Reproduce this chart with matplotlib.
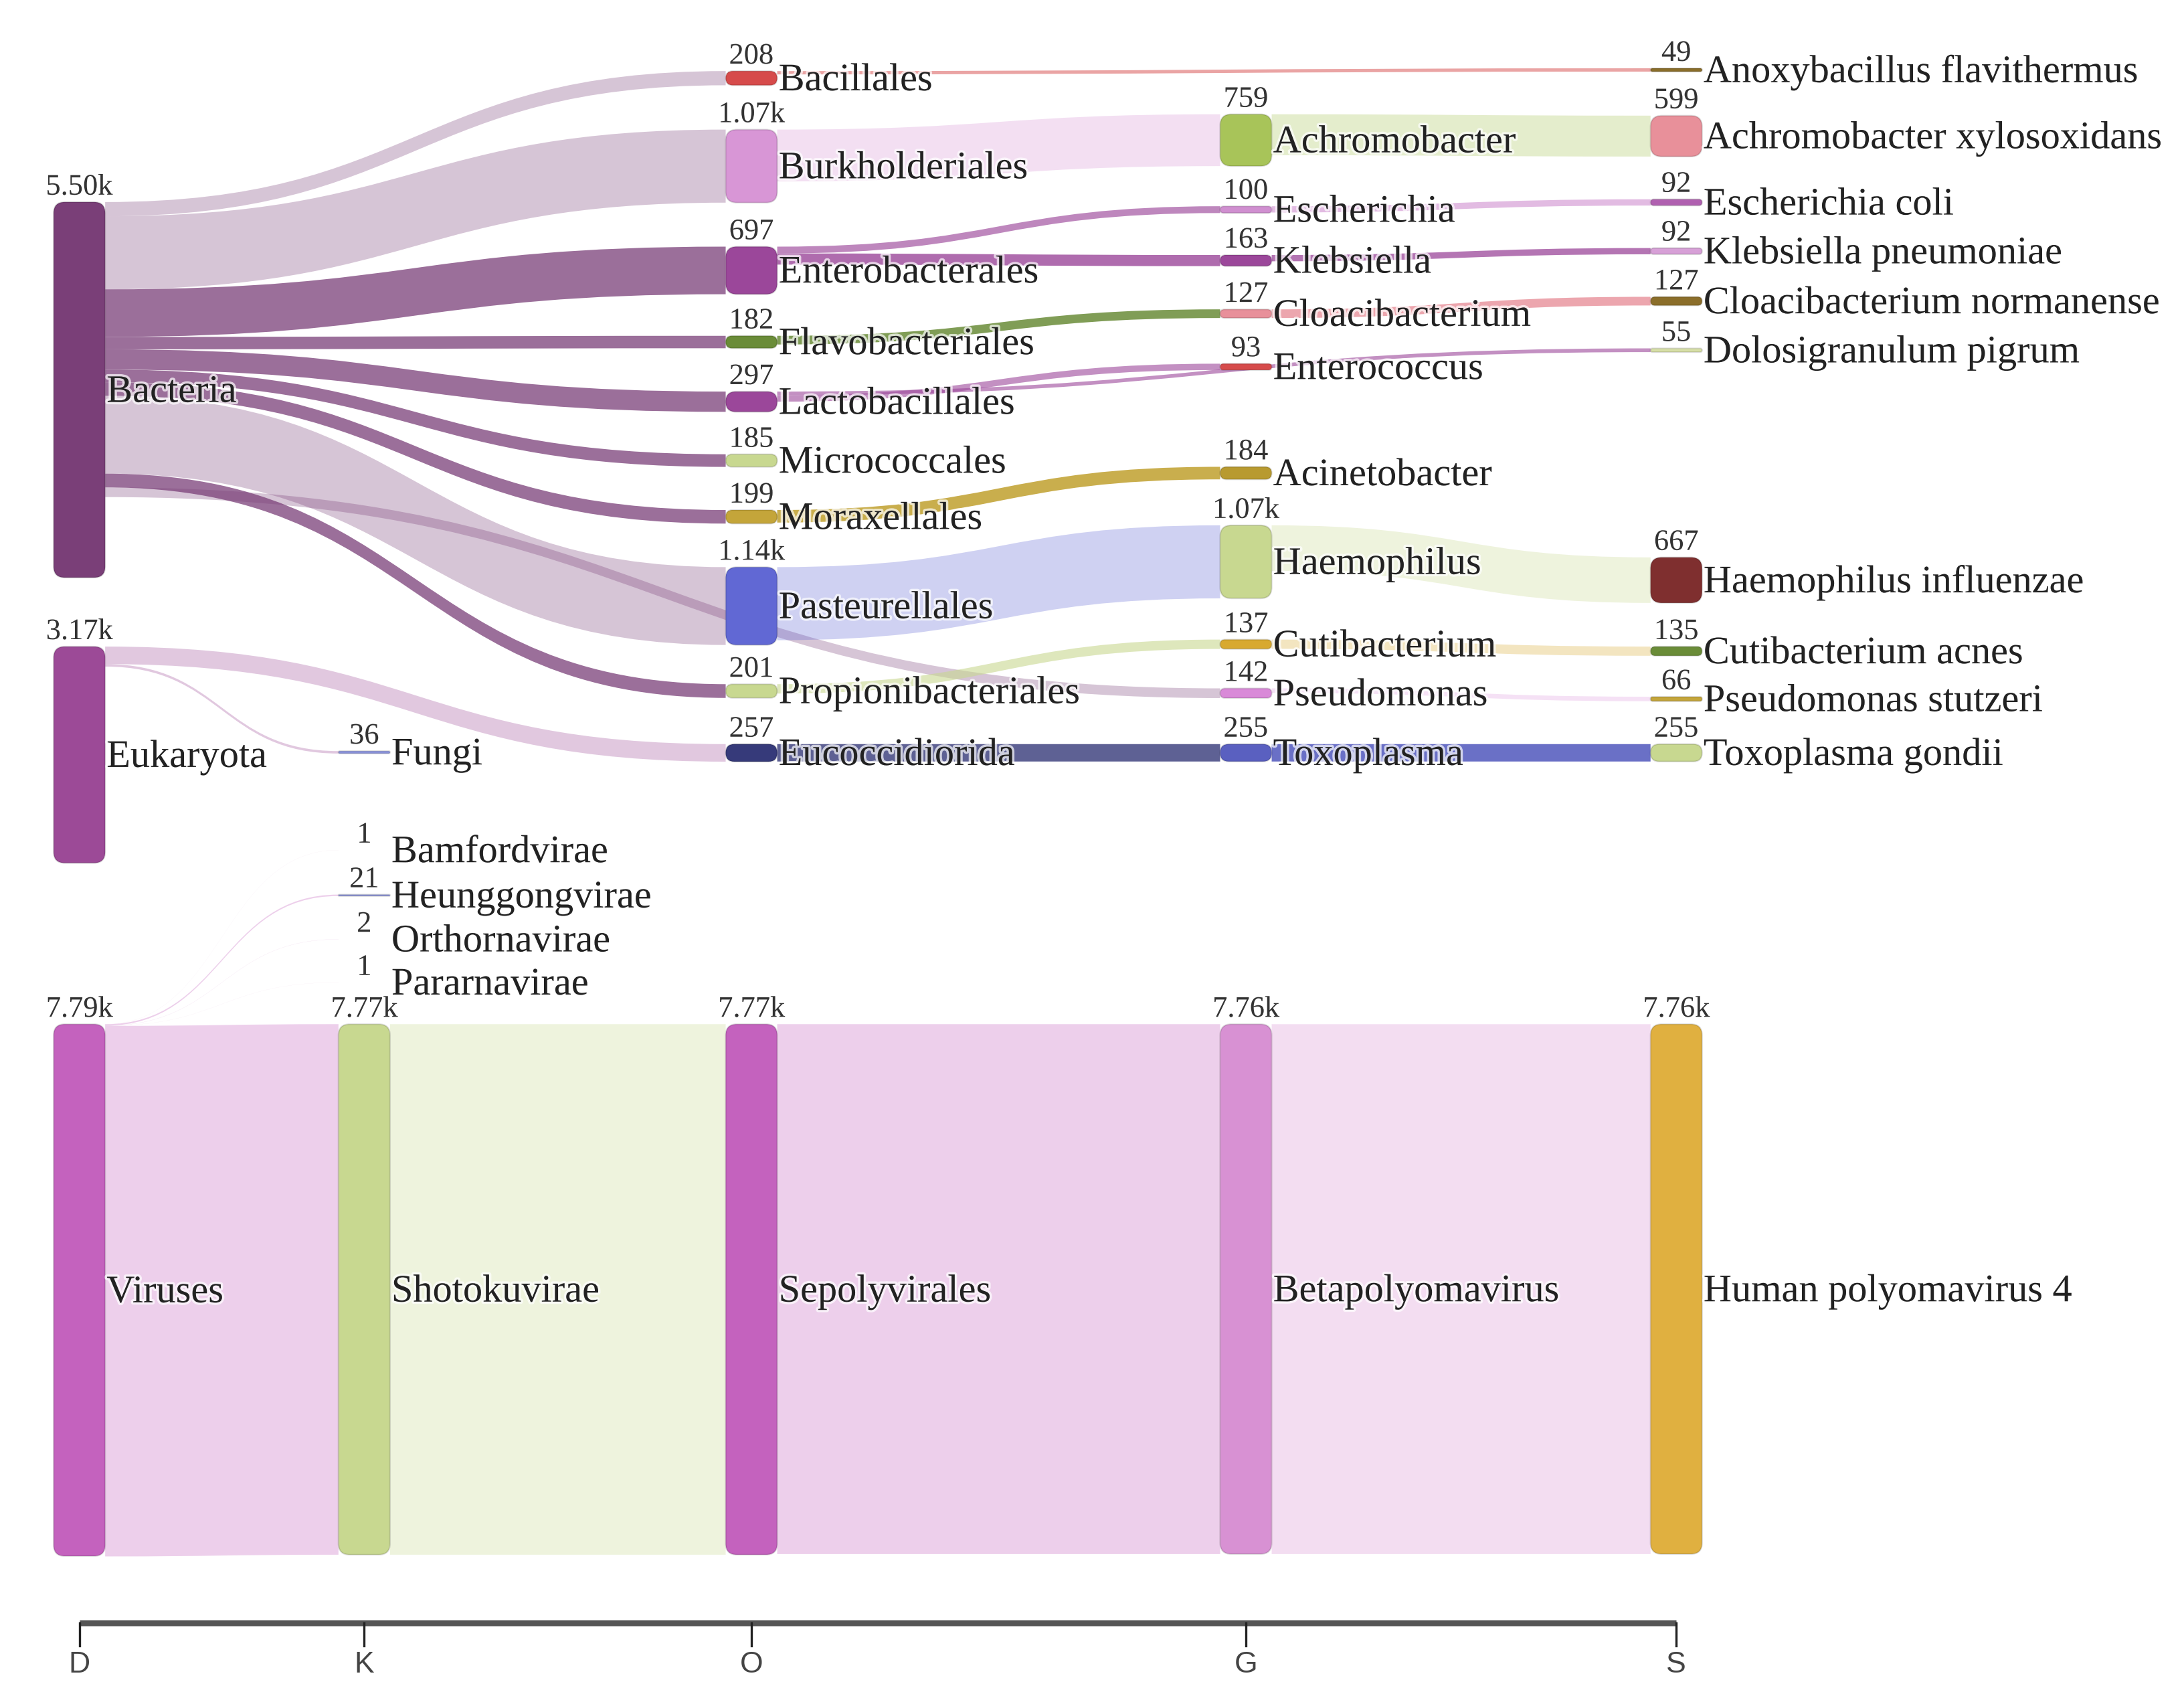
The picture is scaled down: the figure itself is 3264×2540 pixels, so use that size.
import matplotlib
matplotlib.use('Agg')
import matplotlib.pyplot as plt
from matplotlib.path import Path
from matplotlib.patches import PathPatch, FancyBboxPatch
import matplotlib.patheffects as pe

# taxonomic ranks on the bottom axis
ranks = ['D', 'K', 'O', 'G', 'S']

# nodes: name, rank column, read count
node_names = [
    'Bacteria', 'Eukaryota', 'Viruses',
    'Fungi', 'Bamfordvirae', 'Heunggongvirae', 'Orthornavirae', 'Pararnavirae', 'Shotokuvirae',
    'Bacillales', 'Burkholderiales', 'Enterobacterales', 'Flavobacteriales', 'Lactobacillales',
    'Micrococcales', 'Moraxellales', 'Pasteurellales', 'Propionibacteriales', 'Eucoccidiorida',
    'Sepolyvirales',
    'Achromobacter', 'Escherichia', 'Klebsiella', 'Cloacibacterium', 'Enterococcus',
    'Acinetobacter', 'Haemophilus', 'Cutibacterium', 'Pseudomonas', 'Toxoplasma',
    'Betapolyomavirus',
    'Anoxybacillus flavithermus', 'Achromobacter xylosoxidans', 'Escherichia coli',
    'Klebsiella pneumoniae', 'Cloacibacterium normanense', 'Dolosigranulum pigrum',
    'Haemophilus influenzae', 'Cutibacterium acnes', 'Pseudomonas stutzeri',
    'Toxoplasma gondii', 'Human polyomavirus 4',
]
node_ranks = [0, 0, 0,
              1, 1, 1, 1, 1, 1,
              2, 2, 2, 2, 2, 2, 2, 2, 2, 2, 2,
              3, 3, 3, 3, 3, 3, 3, 3, 3, 3, 3,
              4, 4, 4, 4, 4, 4, 4, 4, 4, 4, 4]
node_values = [5500, 3170, 7790,
               36, 1, 21, 2, 1, 7770,
               208, 1070, 697, 182, 297, 185, 199, 1140, 201, 257, 7770,
               759, 100, 163, 127, 93, 184, 1070, 137, 142, 255, 7760,
               49, 599, 92, 92, 127, 55, 667, 135, 66, 255, 7760]

# links between nodes (reads)
link_source = [
    'Bacteria', 'Bacteria', 'Bacteria', 'Bacteria', 'Bacteria', 'Bacteria', 'Bacteria',
    'Bacteria', 'Bacteria', 'Bacteria',
    'Eukaryota', 'Eukaryota',
    'Viruses', 'Viruses', 'Viruses', 'Viruses', 'Viruses',
    'Shotokuvirae', 'Sepolyvirales', 'Betapolyomavirus',
    'Bacillales', 'Burkholderiales', 'Achromobacter',
    'Enterobacterales', 'Enterobacterales', 'Escherichia', 'Klebsiella',
    'Flavobacteriales', 'Cloacibacterium',
    'Lactobacillales', 'Lactobacillales',
    'Moraxellales', 'Pasteurellales', 'Haemophilus',
    'Propionibacteriales', 'Cutibacterium', 'Pseudomonas',
    'Eucoccidiorida', 'Toxoplasma',
]
link_target = [
    'Bacillales', 'Burkholderiales', 'Enterobacterales', 'Flavobacteriales', 'Lactobacillales',
    'Micrococcales', 'Moraxellales', 'Pasteurellales', 'Propionibacteriales', 'Pseudomonas',
    'Fungi', 'Eucoccidiorida',
    'Bamfordvirae', 'Heunggongvirae', 'Orthornavirae', 'Pararnavirae', 'Shotokuvirae',
    'Sepolyvirales', 'Betapolyomavirus', 'Human polyomavirus 4',
    'Anoxybacillus flavithermus', 'Achromobacter', 'Achromobacter xylosoxidans',
    'Escherichia', 'Klebsiella', 'Escherichia coli', 'Klebsiella pneumoniae',
    'Cloacibacterium', 'Cloacibacterium normanense',
    'Enterococcus', 'Dolosigranulum pigrum',
    'Acinetobacter', 'Haemophilus', 'Haemophilus influenzae',
    'Cutibacterium', 'Cutibacterium acnes', 'Pseudomonas stutzeri',
    'Toxoplasma', 'Toxoplasma gondii',
]
link_values = [208, 1070, 697, 182, 297, 185, 199, 1140, 201, 142,
               36, 257,
               1, 21, 2, 1, 7770,
               7770, 7760, 7760,
               49, 759, 599,
               100, 163, 92, 92,
               127, 127,
               93, 55,
               184, 1070, 667,
               137, 135, 66,
               255, 255]

# ---- layout (canvas units, y downwards) ----
W, H = 1568, 1220
col_x = [38.5, 243, 521, 876, 1185]
node_w = 37
scale = 0.049   # canvas units per read

node_top = {
    'Bacteria': 145, 'Eukaryota': 464, 'Viruses': 735,
    'Fungi': 539, 'Bamfordvirae': 610, 'Heunggongvirae': 642, 'Orthornavirae': 674,
    'Pararnavirae': 705, 'Shotokuvirae': 735,
    'Bacillales': 51, 'Burkholderiales': 93, 'Enterobacterales': 177, 'Flavobacteriales': 241,
    'Lactobacillales': 281, 'Micrococcales': 326, 'Moraxellales': 366, 'Pasteurellales': 407,
    'Propionibacteriales': 491, 'Eucoccidiorida': 534, 'Sepolyvirales': 735,
    'Achromobacter': 82, 'Escherichia': 148, 'Klebsiella': 183, 'Cloacibacterium': 222,
    'Enterococcus': 261, 'Acinetobacter': 335, 'Haemophilus': 377, 'Cutibacterium': 459,
    'Pseudomonas': 494, 'Toxoplasma': 534, 'Betapolyomavirus': 735,
    'Anoxybacillus flavithermus': 49, 'Achromobacter xylosoxidans': 83, 'Escherichia coli': 143,
    'Klebsiella pneumoniae': 178, 'Cloacibacterium normanense': 213, 'Dolosigranulum pigrum': 250,
    'Haemophilus influenzae': 400, 'Cutibacterium acnes': 464, 'Pseudomonas stutzeri': 500,
    'Toxoplasma gondii': 534, 'Human polyomavirus 4': 735,
}

node_colors = {
    'Bacteria': '#7a3f78', 'Eukaryota': '#9c4a97', 'Viruses': '#c462be',
    'Fungi': '#8d96e0', 'Bamfordvirae': '#c8d890', 'Heunggongvirae': '#8d96e0',
    'Orthornavirae': '#c8d890', 'Pararnavirae': '#c8d890', 'Shotokuvirae': '#c8d890',
    'Bacillales': '#d64b4b', 'Burkholderiales': '#d896d6', 'Enterobacterales': '#9b479a',
    'Flavobacteriales': '#6a8c38', 'Lactobacillales': '#9b479a', 'Micrococcales': '#c8d890',
    'Moraxellales': '#c4a53a', 'Pasteurellales': '#6168d4', 'Propionibacteriales': '#c8d890',
    'Eucoccidiorida': '#363a7a', 'Sepolyvirales': '#c462be',
    'Achromobacter': '#a8c459', 'Escherichia': '#d08fd0', 'Klebsiella': '#9b479a',
    'Cloacibacterium': '#e8909a', 'Enterococcus': '#d64b4b', 'Acinetobacter': '#b89a30',
    'Haemophilus': '#c8d890', 'Cutibacterium': '#d8a930', 'Pseudomonas': '#d98ad8',
    'Toxoplasma': '#5a60c0', 'Betapolyomavirus': '#d891d3',
    'Anoxybacillus flavithermus': '#8b6e2a', 'Achromobacter xylosoxidans': '#e8909a',
    'Escherichia coli': '#b060b0', 'Klebsiella pneumoniae': '#d7a0d7',
    'Cloacibacterium normanense': '#8b6e2a', 'Dolosigranulum pigrum': '#d8e0a8',
    'Haemophilus influenzae': '#7f2f2f', 'Cutibacterium acnes': '#6a8c38',
    'Pseudomonas stutzeri': '#c4a53a', 'Toxoplasma gondii': '#c8d890',
    'Human polyomavirus 4': '#e0b040',
}

# link opacity (link colour = source node colour); default 0.3
link_alpha = {
    ('Bacteria', 'Enterobacterales'): 0.75, ('Bacteria', 'Flavobacteriales'): 0.75,
    ('Bacteria', 'Lactobacillales'): 0.75, ('Bacteria', 'Micrococcales'): 0.75,
    ('Bacteria', 'Moraxellales'): 0.75, ('Bacteria', 'Propionibacteriales'): 0.75,
    ('Bacillales', 'Anoxybacillus flavithermus'): 0.5,
    ('Enterobacterales', 'Escherichia'): 0.65, ('Enterobacterales', 'Klebsiella'): 0.8,
    ('Escherichia', 'Escherichia coli'): 0.6, ('Klebsiella', 'Klebsiella pneumoniae'): 0.75,
    ('Flavobacteriales', 'Cloacibacterium'): 0.85,
    ('Cloacibacterium', 'Cloacibacterium normanense'): 0.8,
    ('Lactobacillales', 'Enterococcus'): 0.6, ('Lactobacillales', 'Dolosigranulum pigrum'): 0.6,
    ('Moraxellales', 'Acinetobacter'): 0.9,
    ('Propionibacteriales', 'Cutibacterium'): 0.6,
    ('Pseudomonas', 'Pseudomonas stutzeri'): 0.25,
    ('Eucoccidiorida', 'Toxoplasma'): 0.8, ('Toxoplasma', 'Toxoplasma gondii'): 0.9,
}

rank_of = dict(zip(node_names, node_ranks))
value_of = dict(zip(node_names, node_values))
height_of = {n: v * scale for n, v in value_of.items()}


def fmt(v):
    if v >= 1000:
        return '%.2fk' % (v / 1000)
    return str(v)


fig = plt.figure(figsize=(16.32, 12.70), dpi=200)
ax = fig.add_axes([0, 0, 1, 1])
ax.set_xlim(0, W)
ax.set_ylim(H, 0)
ax.axis('off')

# stack links on each node, ordered by the position of the other end
links = list(zip(link_source, link_target, link_values))
y_out, y_in = {}, {}
for n in node_names:
    off = 0
    for s, t, v in sorted([l for l in links if l[0] == n], key=lambda l: node_top[l[1]]):
        y_out[(s, t)] = node_top[n] + off
        off += v * scale
    off = 0
    for s, t, v in sorted([l for l in links if l[1] == n], key=lambda l: node_top[l[0]]):
        y_in[(s, t)] = node_top[n] + off
        off += v * scale

# links
for s, t, v in links:
    w = v * scale
    x0 = col_x[rank_of[s]] + node_w
    x1 = col_x[rank_of[t]]
    y0 = y_out[(s, t)]
    y1 = y_in[(s, t)]
    xm = (x0 + x1) / 2
    verts = [(x0, y0), (xm, y0), (xm, y1), (x1, y1),
             (x1, y1 + w), (xm, y1 + w), (xm, y0 + w), (x0, y0 + w), (x0, y0)]
    codes = [Path.MOVETO, Path.CURVE4, Path.CURVE4, Path.CURVE4,
             Path.LINETO, Path.CURVE4, Path.CURVE4, Path.CURVE4, Path.CLOSEPOLY]
    a = link_alpha.get((s, t), 0.3)
    ax.add_patch(PathPatch(Path(verts, codes), facecolor=node_colors[s], alpha=a,
                           edgecolor='none', zorder=1))

# nodes and labels
halo = [pe.withStroke(linewidth=2.5, foreground='white', alpha=0.7)]
for n in node_names:
    x = col_x[rank_of[n]]
    y = node_top[n]
    h = height_of[n]
    if h > 0.3:
        r = min(8, h / 2, node_w / 2)
        ax.add_patch(FancyBboxPatch((x, y), node_w, h,
                                    boxstyle='round,pad=0,rounding_size=%g' % r,
                                    facecolor=node_colors[n], edgecolor='#00000022',
                                    linewidth=0.8, zorder=2))
    ax.text(x + node_w / 2, y - 1, fmt(value_of[n]), ha='center', va='bottom',
            fontsize=16, family=['Liberation Serif', 'DejaVu Serif'], color='#333333',
            zorder=3, path_effects=halo)
    ax.text(x + node_w + 1, y + h / 2 + 2, n, ha='left', va='center',
            fontsize=21, family=['Liberation Serif', 'DejaVu Serif'], color='#222222',
            zorder=3, path_effects=halo)

# rank axis
centers = [cx + node_w / 2 for cx in col_x]
ax.plot([centers[0], centers[-1]], [1165, 1165], color='#555555', linewidth=3.2,
        solid_capstyle='butt', zorder=2)
for cx, lab in zip(centers, ranks):
    ax.plot([cx, cx], [1165, 1181], color='#222222', linewidth=1.2, zorder=2)
    ax.text(cx, 1195, lab, ha='center', va='center', fontsize=16,
            family=['Liberation Sans', 'DejaVu Sans'], color='#444444')

fig.savefig('out.png', dpi=200)
